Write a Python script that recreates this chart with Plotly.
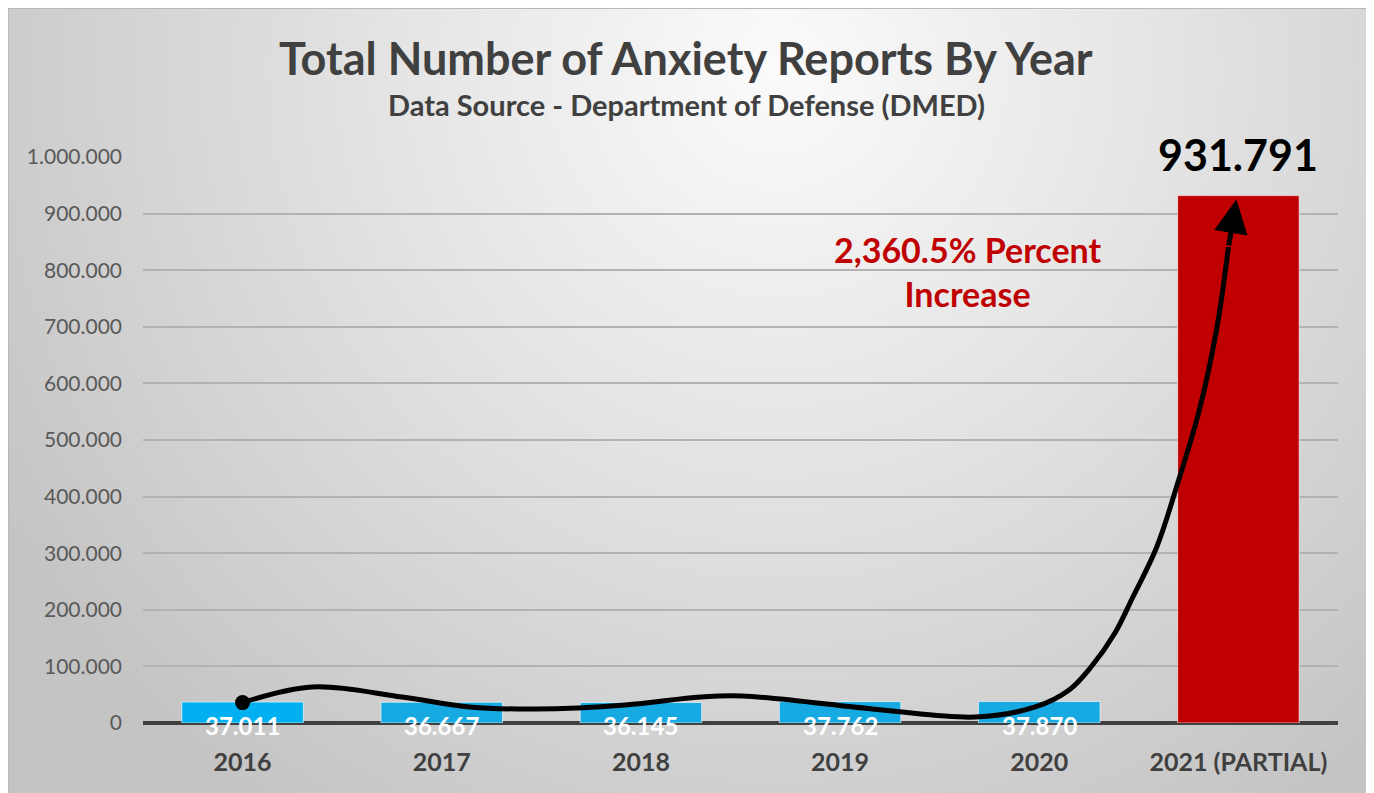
import plotly.graph_objects as go
import base64

# ---------------- data ----------------
years = ["2016", "2017", "2018", "2019", "2020", "2021 (PARTIAL)"]
reports = [37011, 36667, 36145, 37762, 37870, 931791]
bar_colors = ["#00B0F0", "#17A9E1", "#17A9E1", "#17A9E1", "#17A9E1", "#C00000"]
y_ticks = [0, 100000, 200000, 300000, 400000, 500000, 600000, 700000, 800000, 900000, 1000000]

title_text = "Total Number of Anxiety Reports By Year"
subtitle_text = "Data Source - Department of Defense (DMED)"
increase_text = "2,360.5% Percent<br>Increase"

# decorative trend curve waypoints (category index, value)
curve_x = [0.0, 0.35, 0.80, 1.14, 1.47, 1.92, 2.30, 2.51, 3.21, 3.68, 3.98, 4.15, 4.26, 4.38, 4.47, 4.59, 4.70, 4.80, 4.89, 4.95]
curve_y = [36000, 63600, 45900, 28300, 24700, 31800, 45900, 47700, 23000, 10600, 28300, 58300, 98900, 159000, 222600, 311000, 429300, 547700, 694300, 841000]
arrow_tip = (4.99, 925000)


def fmt(v):
    return f"{v:,}".replace(",", ".")


FONT = "Lato"
x_pos = list(range(len(years)))

fig = go.Figure()

fig.add_trace(go.Bar(
    x=x_pos, y=reports,
    marker=dict(color=bar_colors, line=dict(color="rgba(255,255,255,0.6)", width=1)),
    width=0.61,
    hoverinfo="skip",
    showlegend=False,
))

fig.add_trace(go.Scatter(
    x=curve_x, y=curve_y, mode="lines",
    line=dict(color="black", width=5, shape="spline", smoothing=1.0),
    hoverinfo="skip", showlegend=False,
))
fig.add_trace(go.Scatter(
    x=[curve_x[0]], y=[curve_y[0]], mode="markers",
    marker=dict(color="black", size=15),
    hoverinfo="skip", showlegend=False,
))

annotations = []
# data labels
for i, v in enumerate(reports[:-1]):
    annotations.append(dict(
        x=i, y=0, text=f"<b>{fmt(v)}</b>", showarrow=False,
        yanchor="middle", yshift=-2,
        font=dict(family=FONT, size=24, color="white"),
    ))
annotations.append(dict(
    x=5, y=reports[-1], text=f"<b>{fmt(reports[-1])}</b>", showarrow=False,
    yanchor="bottom", yshift=14,
    font=dict(family=FONT, size=43, color="black"),
))
# arrow head
annotations.append(dict(
    x=arrow_tip[0], y=arrow_tip[1], ax=curve_x[-1], ay=curve_y[-1],
    xref="x", yref="y", axref="x", ayref="y",
    text="", showarrow=True, arrowhead=2, arrowsize=1.35, arrowwidth=5, arrowcolor="black",
))
annotations.append(dict(
    x=3.64, y=0.797, xref="x", yref="paper", text=f"<b>{increase_text}</b>",
    showarrow=False, align="center", yanchor="middle", xanchor="center",
    font=dict(family=FONT, size=34, color="#C00000"),
))
annotations.append(dict(
    x=0.4544, y=1.175, xref="paper", yref="paper", text=f"<b>{title_text}</b>",
    showarrow=False, yanchor="middle", xanchor="center",
    font=dict(family=FONT, size=45, color="#404040"),
))
annotations.append(dict(
    x=0.4544, y=1.092, xref="paper", yref="paper", text=f"<b>{subtitle_text}</b>",
    showarrow=False, yanchor="middle", xanchor="center",
    font=dict(family=FONT, size=29, color="#404040"),
))

# figure geometry (page body adds an 8px offset)
W, H = 1366, 785
L, R, T, B = 135, 36, 149, 70
pw, ph = W - L - R, H - T - B
px0, py0, px1, py1 = 0, 0, 1360, 785

svg = """<svg xmlns='http://www.w3.org/2000/svg' width='1360' height='785' viewBox='0 0 1360 785' preserveAspectRatio='none'>
<defs><radialGradient id='g' cx='770' cy='60' r='900' gradientUnits='userSpaceOnUse'>
<stop offset='0' stop-color='#FBFBFB'/><stop offset='0.45' stop-color='#E3E3E3'/><stop offset='1' stop-color='#C4C4C4'/>
</radialGradient></defs>
<rect x='0' y='0' width='1360' height='785' fill='url(#g)'/></svg>"""
src = "data:image/svg+xml;base64," + base64.b64encode(svg.encode()).decode()

ix0 = (px0 - L) / pw
iy0 = 1 + (T - py0) / ph
isx = (px1 - px0) / pw
isy = (py1 - py0) / ph

fig.add_layout_image(dict(
    source=src, xref="paper", yref="paper", x=ix0, y=iy0,
    sizex=isx, sizey=isy, sizing="stretch", layer="below", xanchor="left", yanchor="top",
))
fig.add_shape(type="rect", xref="paper", yref="paper",
              x0=ix0, x1=ix0 + isx, y0=iy0 - isy - 0.01, y1=iy0,
              line=dict(color="#B8B8B8", width=2), layer="below")

fig.update_layout(
    width=W, height=H,
    margin=dict(l=L, r=R, t=T, b=B, pad=0),
    paper_bgcolor="white", plot_bgcolor="rgba(0,0,0,0)",
    separators=",.",
    annotations=annotations,
    xaxis=dict(
        range=[-0.5, 5.5], tickvals=x_pos, ticktext=[f"<b>{y}</b>" for y in years],
        tickfont=dict(family=FONT, size=25, color="#404040"),
        showgrid=False, zeroline=False, showline=False, ticks="", ticklabelstandoff=22,
    ),
    yaxis=dict(
        range=[0, 1000000], tickvals=y_ticks, tickformat=",d",
        tickfont=dict(family=FONT, size=21, color="#595959"),
        showgrid=True, gridcolor="#B2B2B2", gridwidth=2,
        zeroline=True, zerolinecolor="#404040", zerolinewidth=4,
        showline=False, ticks="", ticklabelstandoff=20,
    ),
    showlegend=False,
)

fig.write_html("out.html")
